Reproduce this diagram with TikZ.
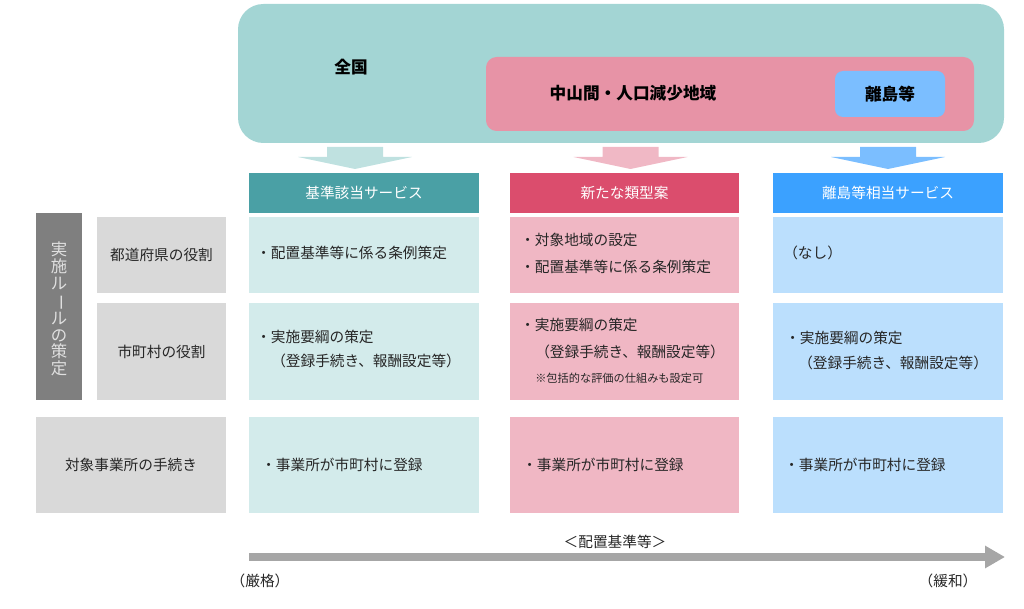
\documentclass[tikz,border=0pt]{standalone}
\usepackage{fontspec}
\setmainfont{Noto Sans CJK JP}
\usetikzlibrary{positioning,fit,calc,arrows.meta}

\definecolor{zenkokuC}{HTML}{A3D5D4}
\definecolor{chusanC}{HTML}{E793A6}
\definecolor{ritoC}{HTML}{7BBEFF}
\definecolor{kijunHead}{HTML}{4AA0A5}
\definecolor{shinHead}{HTML}{DB4D6D}
\definecolor{ritoHead}{HTML}{3BA1FF}
\definecolor{kijunArr}{HTML}{BFE1E0}
\definecolor{shinArr}{HTML}{F0B8C5}
\definecolor{ritoArr}{HTML}{7BBEFF}
\definecolor{kijunCell}{HTML}{D3EBEB}
\definecolor{shinCell}{HTML}{F0B7C4}
\definecolor{ritoCell}{HTML}{BBDFFD}
\definecolor{labelCell}{HTML}{D9D9D9}
\definecolor{barC}{HTML}{7F7F7F}
\definecolor{scaleC}{HTML}{A6A6A6}
\definecolor{textC}{HTML}{262626}

\begin{document}
\begin{tikzpicture}[x=0.75pt,y=-0.75pt,
	every node/.style={font=\fontsize{11}{13}\selectfont,text=textC},
	box/.style={inner sep=0pt,outer sep=0pt},
	headbox/.style={box,label={[text=white]center:#1}},
	labbox/.style={box,fill=labelCell,label={center:#1}},
	line/.style={anchor=west,inner sep=0pt},
	note/.style={line,font=\fontsize{8.4}{10}\selectfont},
	bold/.style={font=\fontsize{12.5}{15}\selectfont\bfseries,text=black},
	declare function={
		rowA = 217; rowAb = 293;
		rowB = 303; rowBb = 400;
		rowC = 417; rowCb = 513;
		colK = 249; colKr = 479;
		colS = 510; colSr = 739;
		colR = 773; colRr = 1003;
		labL = 97; labR = 226;
		barL = 36; barR = 82;
		headT = 173; headB = 213;
	}
	]
	\useasboundingbox (0,0) rectangle (1024,609);
	% target areas
	\node[box,fill=zenkokuC,rounded corners=19pt,fit={(238,4) (1004,143)}] (zenkoku) {};
	\node[box,fill=chusanC,rounded corners=8pt,fit={(486,57) (974,131)}] (chusan) {};
	\node[box,fill=ritoC,rounded corners=6pt,fit={(835,71) (945,117)}] (rito) {};
	\node[bold] (lZenkoku) at (351,67) {全国};
	\node[bold] (lChusan) at (633,93) {中山間・人口減少地域};
	\node[bold] (lRito) at (890,94) {離島等};
	% column heads
	\node[headbox=基準該当サービス,fill=kijunHead,fit={(colK,headT) (colKr,headB)}] (hKijun) {};
	\node[headbox=新たな類型案,fill=shinHead,fit={(colS,headT) (colSr,headB)}] (hShin) {};
	\node[headbox=離島等相当サービス,fill=ritoHead,fit={(colR,headT) (colRr,headB)}] (hRito) {};
	\foreach \h/\c/\dx in {hKijun/kijunArr/-9,hShin/shinArr/6,hRito/ritoArr/0}{
		\fill[\c] ($(\h.north)+(\dx-28,-26)$) -- ++(56,0) -- ++(0,10) -- ++(29,0)
			-- ($(\h.north)+(\dx,-4)$) -- ($(\h.north)+(\dx-57,-16)$) -- ++(29,0) -- cycle;
	}
	% row labels
	\node[box,fill=barC,fit={(barL,213) (barR,400)}] (bar) {};
	\node[box,text=white!88!black,align=center,font=\fontsize{12.3}{12.6}\selectfont] (lBar) at (59,309)
		{実\\施\\ル\\\rotatebox[origin=c]{-90}{ー}\\ル\\の\\策\\定};
	\node[labbox=都道府県の役割,fit={(labL,rowA) (labR,rowAb)}] (lPref) {};
	\node[labbox=市町村の役割,fit={(labL,rowB) (labR,rowBb)}] (lCity) {};
	\node[labbox=対象事業所の手続き,fit={(barL,rowC) (labR,rowCb)}] (lOffice) {};
	% cells
	\foreach \c/\l/\r/\f in {cK/colK/colKr/kijunCell,cS/colS/colSr/shinCell,cR/colR/colRr/ritoCell}{
		\node[box,fill=\f,fit={(\l,rowA) (\r,rowAb)}] (\c1) {};
		\node[box,fill=\f,fit={(\l,rowB) (\r,rowBb)}] (\c2) {};
		\node[box,fill=\f,fit={(\l,rowC) (\r,rowCb)}] (\c3) {};
	}
	\node[line] (tK1) at (256,253) {・配置基準等に係る条例策定};
	\node[line] (tK2a) at (256,337) {・実施要綱の策定};
	\node[line] (tK2b) at (271,361) {（登録手続き、報酬設定等）};
	\node[line] (tK3) at (261,465) {・事業所が市町村に登録};
	\node[line] (tS1a) at (520,240) {・対象地域の設定};
	\node[line] (tS1b) at (520,267) {・配置基準等に係る条例策定};
	\node[line] (tS2a) at (520,325) {・実施要綱の策定};
	\node[line] (tS2b) at (535,352) {（登録手続き、報酬設定等）};
	\node[note] (tS2c) at (535,378) {※包括的な評価の仕組みも設定可};
	\node[line] (tS3) at (522,465) {・事業所が市町村に登録};
	\node[line] (tR1) at (783,253) {（なし）};
	\node[line] (tR2a) at (785,338) {・実施要綱の策定};
	\node[line] (tR2b) at (798,363) {（登録手続き、報酬設定等）};
	\node[line] (tR3) at (784,465) {・事業所が市町村に登録};
	% scale
	\coordinate (scaleL) at (249,557);
	\coordinate (scaleR) at (1005,557);
	\draw[scaleC,line width=6.5pt,-{Triangle[length=15pt,width=16pt]}] (scaleL) -- (scaleR);
	\node (lHaichi) at (615,542) {＜配置基準等＞};
	\node (lGenkaku) at (260,581) {（厳格）};
	\node (lKanwa) at (948,581) {（緩和）};
\end{tikzpicture}
\end{document}
